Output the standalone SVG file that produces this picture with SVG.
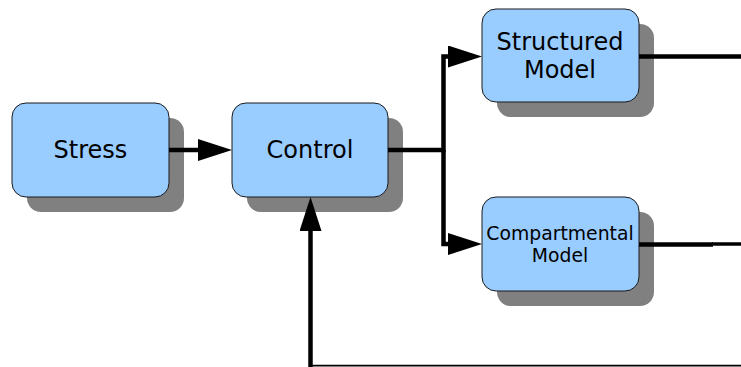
<svg xmlns="http://www.w3.org/2000/svg" width="741" height="367" viewBox="0 0 741 367">
  <style>
    .shadow { fill: #808080; }
    .box { fill: #99ccff; stroke: #1a1a1a; stroke-width: 1; }
    .label { font-family: "DejaVu Sans", Verdana, sans-serif; font-size: 24px; fill: #000; text-anchor: middle; }
    .label.small { font-size: 18.8px; }
    .wire { fill: none; stroke: #000; stroke-width: 4.5; }
    .thin { fill: none; stroke: #000; stroke-width: 1.6; }
  </style>
  <defs>
    <!-- the wire stops 20px short of the target; the head reaches on to it -->
    <marker id="head" markerUnits="userSpaceOnUse" markerWidth="34" markerHeight="22" refX="14" refY="11" orient="auto">
      <path d="M0,0 L34,11 L0,22 Z" fill="#000"/>
    </marker>
  </defs>

  <rect width="741" height="367" fill="#fff"/>

  <!-- nodes -->
  <g id="stress">
    <rect class="shadow" x="27" y="118" width="157" height="94" rx="14"/>
    <rect class="box" x="12" y="103" width="157" height="94" rx="14"/>
    <text class="label" x="90.5" y="158.3">Stress</text>
  </g>
  <g id="control">
    <rect class="shadow" x="247" y="118" width="156" height="94" rx="14"/>
    <rect class="box" x="232" y="103" width="156" height="94" rx="14"/>
    <text class="label" x="310" y="158.3">Control</text>
  </g>
  <g id="structured-model">
    <rect class="shadow" x="497" y="24" width="157" height="93" rx="14"/>
    <rect class="box" x="482" y="9" width="157" height="93" rx="14"/>
    <text class="label" x="560" y="50">Structured</text>
    <text class="label" x="560" y="78.3">Model</text>
  </g>
  <g id="compartmental-model">
    <rect class="shadow" x="497" y="212" width="157" height="94" rx="14"/>
    <rect class="box" x="482" y="197" width="157" height="94" rx="14"/>
    <text class="label small" x="560" y="240">Compartmental</text>
    <text class="label small" x="560" y="261.7">Model</text>
  </g>

  <!-- connectors, drawn over the box shadows -->
  <g id="connectors">
    <line class="wire" x1="169" y1="150" x2="212" y2="150" marker-end="url(#head)"/>
    <polyline class="wire" points="388,150 443.5,150 443.5,56.5 462,56.5" marker-end="url(#head)"/>
    <polyline class="wire" points="443.5,150 443.5,244 462,244" marker-end="url(#head)"/>
    <line class="wire" x1="639" y1="56.5" x2="741" y2="56.5"/>
    <line class="wire" x1="639" y1="244.5" x2="713" y2="244.5"/>
    <line class="wire" x1="712" y1="244" x2="741" y2="244" style="stroke-width:3.5"/>
    <line class="thin" x1="741" y1="365.6" x2="310.5" y2="365.6"/>
    <line class="wire" x1="310.5" y1="367" x2="310.5" y2="217" marker-end="url(#head)"/>
  </g>
</svg>
